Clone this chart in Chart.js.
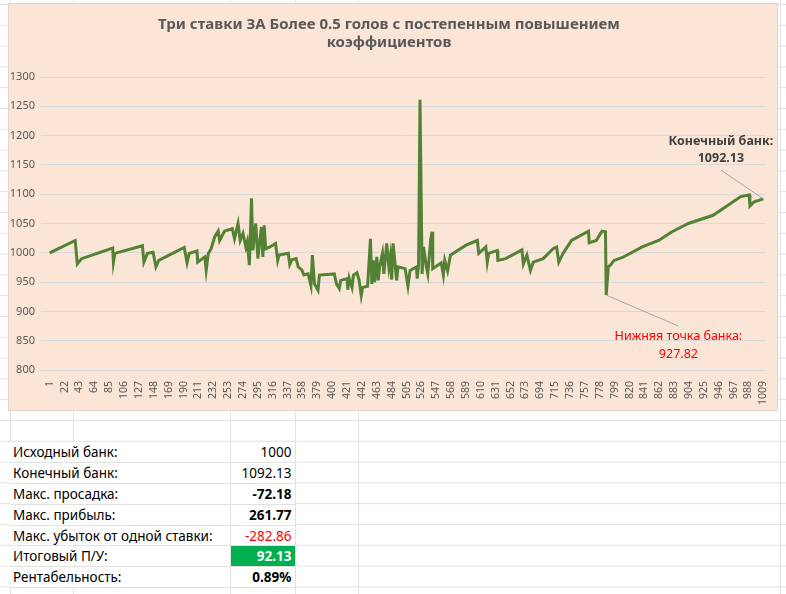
<!DOCTYPE html>
<html>
<head>
<meta charset="utf-8">
<script src="https://cdn.jsdelivr.net/npm/chart.js@4.4.1/dist/chart.umd.min.js"></script>
<style>
  body { margin: 0; width: 786px; height: 594px; position: relative; overflow: hidden;
         font-family: "Noto Sans", "Open Sans", sans-serif; background: #fff;
         background-image: linear-gradient(#e1e1e1 1px, transparent 1px);
         background-size: 100% 20.8px; background-position: 0 4px; }
  .vline { position: absolute; top: 0; bottom: 0; width: 1px; background: #e1e1e1; }
  #box { position: absolute; left: 8px; top: 3px; width: 770px; height: 408px; background: #fbe5d6; border: 1px solid #e6d3c6; box-sizing: border-box; }
  #stats { position: absolute; left: 10px; top: 442px; border-collapse: collapse; font-size: 13.5px; color: #000; }
  #stats td { height: 20.8px; padding: 0 3px; box-sizing: border-box; background: #fff; border-bottom: 1px solid #e1e1e1; border-right: 1px solid #e1e1e1; }
  #stats td.n { text-align: right; width: 65px; }
  #stats td.l { width: 220px; }
</style>
</head>
<body>
<div class="vline" style="left:10px"></div>
<div class="vline" style="left:73px"></div>
<div class="vline" style="left:230px"></div>
<div class="vline" style="left:295px"></div>
<div class="vline" style="left:358px"></div>
<div class="vline" style="left:780px"></div>
<div id="box"><canvas id="bankChart" width="770" height="408"></canvas></div>
<table id="stats"></table>
<script>
// bet number / bank value
const betIndex = [1, 37, 40, 46, 90, 91, 93, 132, 134, 139, 147, 151, 155, 191, 195, 198, 209, 210, 220, 222, 225, 229, 234, 239, 241, 248, 259, 262, 267, 270, 274, 278, 280, 283, 286, 288, 292, 295, 300, 302, 304, 306, 312, 320, 323, 325, 338, 340, 343, 349, 352, 357, 360, 366, 370, 372, 375, 380, 382, 403, 406, 410, 412, 421, 422, 424, 428, 430, 435, 438, 441, 443, 450, 454, 456, 458, 460, 463, 465, 467, 471, 473, 477, 480, 482, 484, 486, 491, 493, 503, 507, 510, 519, 520, 522, 524, 527, 529, 533, 535, 539, 541, 542, 554, 557, 559, 563, 567, 589, 605, 607, 617, 619, 621, 633, 634, 645, 668, 670, 675, 680, 684, 698, 712, 717, 720, 726, 738, 762, 763, 773, 781, 786, 787, 790, 793, 798, 810, 838, 861, 880, 903, 938, 959, 977, 989, 990, 996, 1009];
const bankValue = [1000, 1021, 981, 990, 1008, 984, 999, 1012, 984, 999, 1001, 976, 987, 1009, 983, 999, 1003, 984, 993, 970, 999, 1007, 1027, 1037, 1021, 1037, 1041, 1024, 1050, 1021, 1033, 1010, 1019, 979, 1093, 1004, 1050, 990, 1044, 993, 1047, 1007, 1010, 1016, 987, 996, 999, 980, 988, 990, 976, 971, 962, 964, 944, 996, 947, 936, 962, 964, 947, 939, 953, 956, 937, 957, 941, 962, 966, 953, 927, 941, 943, 1024, 947, 987, 950, 993, 953, 976, 999, 964, 1016, 976, 993, 954, 1016, 953, 976, 973, 943, 970, 976, 956, 979, 1261, 964, 1010, 976, 964, 1021, 1036, 973, 983, 962, 987, 969, 996, 1013, 1021, 999, 1010, 984, 999, 1004, 987, 990, 1005, 981, 996, 970, 984, 990, 1007, 1010, 984, 999, 1021, 1037, 1017, 1021, 1037, 1036, 927.82, 976, 979, 987, 992, 1010, 1021, 1036, 1050, 1064, 1081, 1096, 1099, 1080, 1087, 1092.13];
const xTicks = [1, 22, 43, 64, 85, 106, 127, 148, 169, 190, 211, 232, 253, 274, 295, 316, 337, 358, 379, 400, 421, 442, 463, 484, 505, 526, 547, 568, 589, 610, 631, 652, 673, 694, 715, 736, 757, 778, 799, 820, 841, 862, 883, 904, 925, 946, 967, 988, 1009];
const yTicks = [800, 850, 900, 950, 1000, 1050, 1100, 1150, 1200, 1250, 1300];

const statLabels = ['Исходный банк:', 'Конечный банк:', 'Макс. просадка:', 'Макс. прибыль:', 'Макс. убыток от одной ставки:', 'Итоговый П/У:', 'Рентабельность:'];
const statValues = ['1000', '1092.13', '-72.18', '261.77', '-282.86', '92.13', '0.89%'];

const table = document.getElementById('stats');
statLabels.forEach(function(label, i) {
    const tr = document.createElement('tr');
    const tdL = document.createElement('td');
    tdL.className = 'l';
    tdL.textContent = label;
    const tdN = document.createElement('td');
    tdN.className = 'n';
    tdN.textContent = statValues[i];
    if (i === 2 || i === 3 || i === 6) tdN.style.fontWeight = 'bold';
    if (i === 4) tdN.style.color = '#ff0000';
    if (i === 5) { tdN.style.background = '#00b050'; tdN.style.color = '#fff'; tdN.style.fontWeight = 'bold'; }
    tr.appendChild(tdL);
    tr.appendChild(tdN);
    table.appendChild(tr);
});

// callout labels, like the Excel data labels
const callouts = {
    id: 'callouts',
    afterDatasetsDraw(chart) {
        const ctx = chart.ctx;
        const xs = chart.scales.x, ys = chart.scales.y;
        const last = betIndex.length - 1;
        const low = bankValue.indexOf(927.82);
        ctx.save();
        ctx.strokeStyle = '#a6a6a6';
        ctx.lineWidth = 1;
        ctx.beginPath();
        ctx.moveTo(xs.getPixelForValue(betIndex[low]), ys.getPixelForValue(bankValue[low]));
        ctx.lineTo(xs.getPixelForValue(889), ys.getPixelForValue(875));
        ctx.moveTo(xs.getPixelForValue(betIndex[last]), ys.getPixelForValue(bankValue[last]));
        ctx.lineTo(xs.getPixelForValue(949), ys.getPixelForValue(1141));
        ctx.stroke();
        ctx.textAlign = 'center';
        ctx.textBaseline = 'middle';
        ctx.font = '12.5px "Noto Sans"';
        ctx.fillStyle = '#ff0000';
        ctx.fillText('Нижняя точка банка:', xs.getPixelForValue(889), ys.getPixelForValue(857));
        ctx.fillText('927.82', xs.getPixelForValue(889), ys.getPixelForValue(827));
        ctx.font = 'bold 12.5px "Noto Sans"';
        ctx.fillStyle = '#404040';
        ctx.fillText('Конечный банк:', xs.getPixelForValue(949), ys.getPixelForValue(1190));
        ctx.fillText('1092.13', xs.getPixelForValue(949), ys.getPixelForValue(1161));
        ctx.restore();
    }
};

new Chart(document.getElementById('bankChart').getContext('2d'), {
    type: 'line',
    data: {
        datasets: [{
            data: betIndex.map(function(x, i) { return { x: x, y: bankValue[i] }; }),
            borderColor: '#548235',
            borderWidth: 3,
            pointRadius: 0,
            tension: 0
        }]
    },
    options: {
        responsive: false,
        animation: false,
        layout: { padding: { left: 0, right: 10, top: 0, bottom: 4 } },
        plugins: {
            legend: { display: false },
            tooltip: { enabled: false },
            title: {
                display: true,
                text: ['Три ставки ЗА Более 0.5 голов с постепенным повышением', 'коэффициентов'],
                color: '#595959',
                font: { family: 'Noto Sans', size: 15, weight: 'bold' },
                padding: { top: 12, bottom: 25 }
            }
        },
        scales: {
            x: {
                type: 'linear',
                min: 0,
                max: 1012,
                afterBuildTicks: function(s) { s.ticks = xTicks.map(function(v) { return { value: v }; }); },
                afterFit: function(s) { s.height = 38; },
                grid: { display: false },
                border: { color: '#d9d9d9' },
                ticks: { autoSkip: false, minRotation: 90, maxRotation: 90, color: '#595959',
                         font: { family: 'Noto Sans', size: 10.5 },
                         callback: function(v) { return String(v); } }
            },
            y: {
                min: 800,
                max: 1300,
                afterBuildTicks: function(s) { s.ticks = yTicks.map(function(v) { return { value: v }; }); },
                afterFit: function(s) { s.width = 40; },
                grid: { color: '#d9d9d9' },
                border: { display: false },
                ticks: { color: '#595959', padding: 6, font: { family: 'Noto Sans', size: 11 },
                         callback: function(v) { return String(v); } }
            }
        }
    },
    plugins: [callouts]
});
</script>
</body>
</html>
